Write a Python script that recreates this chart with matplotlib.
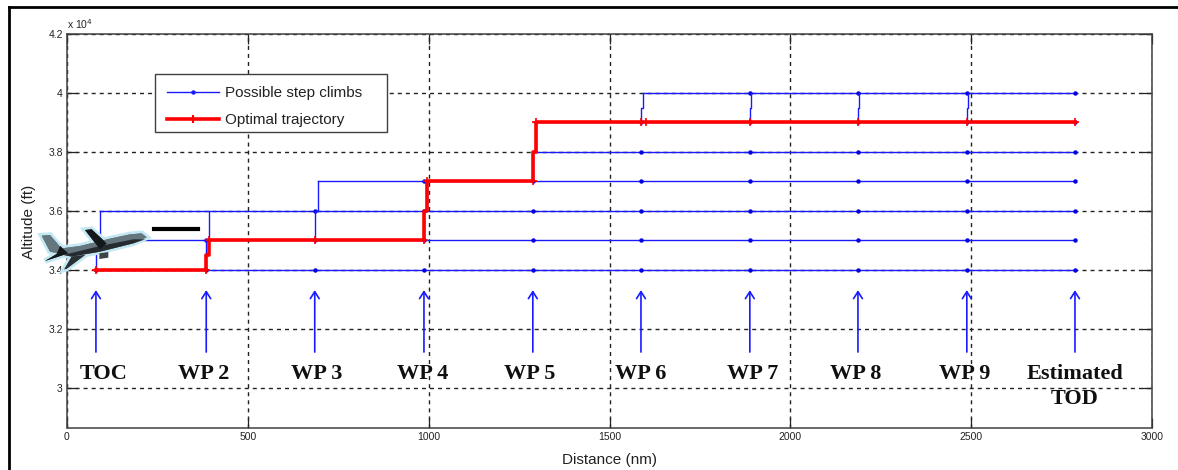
import matplotlib
matplotlib.use("Agg")
import matplotlib.pyplot as plt
import matplotlib.patheffects as pe
from matplotlib.lines import Line2D
from matplotlib.patches import Polygon, Rectangle

W, H = 1178, 470

waypoints = ["TOC", "WP 2", "WP 3", "WP 4", "WP 5", "WP 6", "WP 7", "WP 8", "WP 9", "Estimated\nTOD"]
wp_dist = [80, 385, 685, 987, 1288, 1587, 1888, 2187, 2488, 2787]
label_dist = [100, 379, 691, 982, 1280, 1587, 1897, 2181, 2483, 2787]

# flight levels: where each line starts and the first waypoint with a marker
levels = [34000, 35000, 36000, 37000, 38000, 39000, 40000]
level_start = [80, 80, 91, 694, 1290, 1288, 1594]
level_first_wp = [0, 1, 2, 3, 5, 5, 6]

# climbs (x at bottom, x at top, from, to)
climb_x0 = [80, 385, 685, 987, 1288, 1587, 1888, 2187, 2488]
climb_x1 = [91, 393, 694, 996, 1297, 1594, 1892, 2190, 2491]
climb_from = [34000, 34000, 35000, 35000, 37000, 39000, 39000, 39000, 39000]
climb_to = [36000, 36000, 37000, 37000, 39000, 40000, 40000, 40000, 40000]

opt_x = [80, 385, 385, 393, 393, 685, 987, 987, 996, 996, 1288, 1288, 1297, 1297, 2787]
opt_y = [34000, 34000, 34500, 34500, 35000, 35000, 35000, 36000, 36000, 37000, 37000, 38000, 38000, 39000, 39000]
opt_mark_x = [80, 385, 393, 685, 987, 996, 1288, 1297, 1587, 1600, 1888, 2187, 2488, 2787]
opt_mark_y = [34000, 34000, 35000, 35000, 35000, 37000, 37000, 39000, 39000, 39000, 39000, 39000, 39000, 39000]

x_ticks = [0, 500, 1000, 1500, 2000, 2500, 3000]
y_ticks = [30000, 32000, 34000, 36000, 38000, 40000, 42000]
y_labels = ["3", "3.2", "3.4", "3.6", "3.8", "4", "4.2"]

plt.rcParams["font.family"] = ["Liberation Sans", "DejaVu Sans"]

fig = plt.figure(figsize=(W / 100, H / 100), dpi=100)


def fx(px):
    return px / W


def fy(py):
    return 1 - py / H


ax = fig.add_axes([fx(67), fy(427.5), fx(1152) - fx(67), fy(34) - fy(427.5)])
ax.set_xlim(0, 3000)
ax.set_ylim(28650, 42000)
ax.set_xticks(x_ticks)
ax.set_yticks(y_ticks)
ax.set_yticklabels(y_labels)
ax.tick_params(direction="in", length=7.5, width=0.9, labelsize=7.5, colors="#222222", pad=3, top=True, right=True)
ax.grid(True, color="#222222", linestyle=(0, (2.9, 2.9)), linewidth=1.0)
ax.set_axisbelow(True)
for s in ax.spines.values():
    s.set_color("#404040")
    s.set_linewidth(1.1)
ax.set_xlabel("Distance (nm)", fontsize=11, color="#222222")
ax.set_ylabel("Altitude (ft)", fontsize=11, color="#222222")
ax.xaxis.set_label_coords(0.5, (427.5 - 460) / 393.5, transform=ax.transAxes)
ax.xaxis.label.set_va("center")
ax.yaxis.set_label_coords((29 - 67) / 1085, (427.5 - 222) / 393.5, transform=ax.transAxes)
ax.yaxis.label.set_va("center")
ax.text(0, 1.008, "x 10$^{4}$", transform=ax.transAxes, fontsize=7.5, color="#222222", va="bottom")

blue = "#1a1aff"
for lv, start, first in zip(levels, level_start, level_first_wp):
    ax.plot([start, wp_dist[-1]], [lv, lv], color=blue, lw=1.0, zorder=3)
    ax.plot(wp_dist[first:], [lv] * len(wp_dist[first:]), ls="none", marker="o", ms=3.2, mew=0, color="#0000e0", zorder=3)
for x0, x1, a, b in zip(climb_x0, climb_x1, climb_from, climb_to):
    mid = (a + b) / 2
    ax.plot([x0, x0, x1, x1], [a, mid, mid, b], color=blue, lw=1.0, zorder=3)

ax.plot(opt_x, opt_y, color="#ff0000", lw=2.6, zorder=4)
ax.plot(opt_mark_x, opt_mark_y, ls="none", color="#ff0000", marker="+", ms=6, mew=1.2, zorder=4)

# arrows and waypoint names
for name, d, ld in zip(waypoints, wp_dist, label_dist):
    ax.annotate("", xy=(d, 33310), xytext=(d, 31210),
                arrowprops=dict(arrowstyle="->,head_length=0.5,head_width=0.32", color=blue, lw=1.2, shrinkA=0, shrinkB=0))
    ax.text(ld, 30800, name, ha="center", va="top", fontsize=16, fontweight="bold",
            family=["Liberation Serif", "DejaVu Serif"], color="#101010", linespacing=1.32, zorder=5)

# legend frame is wider than its text in the reference, so it is drawn apart
ax.add_patch(Rectangle((fx(155), fy(132)), fx(387) - fx(155), fy(74) - fy(132), transform=fig.transFigure,
                       facecolor="white", edgecolor="#404040", linewidth=1.0, zorder=5.5))
handles = [
    Line2D([], [], color=blue, lw=1.0, marker="o", ms=3.2, mew=0, label="Possible step climbs"),
    Line2D([], [], color="#ff0000", lw=2.6, marker="+", ms=6, mew=1.5, label="Optimal trajectory"),
]
leg = ax.legend(handles=handles, loc="upper left", bbox_to_anchor=((155 - 67) / 1085, (427.5 - 74) / 393.5),
                borderaxespad=0, frameon=False, fontsize=11, handlelength=3.4, handletextpad=0.4,
                borderpad=0.8, labelspacing=0.85, labelcolor="#222222")
leg.set_zorder(6)

# outer frame of the page
fig.add_artist(Line2D([fx(9), fx(9)], [0, fy(7)], color="black", lw=2))
fig.add_artist(Line2D([fx(9), 1], [fy(7), fy(7)], color="black", lw=2))

# black dash next to the aircraft
fig.add_artist(Line2D([fx(154), fx(198)], [fy(229), fy(229)], color="black", lw=3, zorder=10))


# small aircraft picture, outline taken from the 3x crop
def plane_part(points, colour, glow=False):
    pts = [(fx(px / 3), fy(py / 3)) for px, py in points]
    p = Polygon(pts, closed=True, facecolor=colour, edgecolor="none", transform=fig.transFigure, zorder=11)
    if glow:
        p.set_path_effects([pe.Stroke(linewidth=4, foreground="#c4e8f3"), pe.Normal()])
    fig.add_artist(p)


plane_body = [(440, 712), (425, 700), (390, 703), (320, 718), (240, 738), (185, 745), (150, 705), (125, 707),
              (150, 755), (215, 770), (300, 755), (400, 730)]
plane_belly = [(436, 718), (400, 730), (300, 755), (215, 770), (190, 765), (300, 738), (400, 718)]
plane_wing_top = [(255, 690), (275, 688), (320, 730), (300, 748)]
plane_wing_low = [(255, 765), (200, 806), (193, 808), (215, 770)]
plane_tail = [(135, 783), (205, 760), (180, 738), (170, 762)]
plane_engine = [(298, 760), (325, 756), (325, 773), (298, 777)]
plane_part(plane_body, "#65767e", glow=True)
plane_part(plane_wing_top, "#14181b", glow=True)
plane_part(plane_wing_low, "#2a3034", glow=True)
plane_part(plane_tail, "#14181b", glow=True)
plane_part(plane_body, "#65767e")
plane_part(plane_belly, "#252b2f")
plane_part(plane_wing_top, "#14181b")
plane_part(plane_wing_low, "#2a3034")
plane_part(plane_tail, "#14181b")
plane_part(plane_engine, "#3c4448")

fig.savefig("out.png", dpi=100)
